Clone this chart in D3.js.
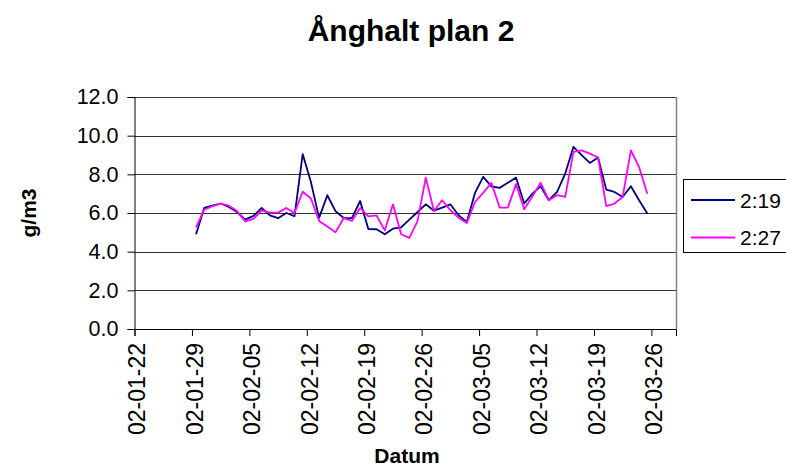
<!DOCTYPE html>
<html>
<head>
<meta charset="utf-8">
<script src="https://cdn.jsdelivr.net/npm/d3@7"></script>
<style>
  body { margin: 0; background: #fff; }
  svg { font-family: "Liberation Sans", Arial, sans-serif; }
</style>
</head>
<body>
<div id="chart"></div>
<script>
// data (daily, 2002)
var dates = ["02-01-29","02-01-30","02-01-31","02-02-01","02-02-02","02-02-03","02-02-04","02-02-05",
  "02-02-06","02-02-07","02-02-08","02-02-09","02-02-10","02-02-11","02-02-12","02-02-13","02-02-14",
  "02-02-15","02-02-16","02-02-17","02-02-18","02-02-19","02-02-20","02-02-21","02-02-22","02-02-23",
  "02-02-24","02-02-25","02-02-26","02-02-27","02-02-28","02-03-01","02-03-02","02-03-03","02-03-04",
  "02-03-05","02-03-06","02-03-07","02-03-08","02-03-09","02-03-10","02-03-11","02-03-12","02-03-13",
  "02-03-14","02-03-15","02-03-16","02-03-17","02-03-18","02-03-19","02-03-20","02-03-21","02-03-22",
  "02-03-23","02-03-24","02-03-25"];

var s219 = [4.9, 6.26, 6.38, 6.49, 6.31, 6.05, 5.66, 5.85, 6.26, 5.88, 5.73, 6.0, 5.83, 9.05, 7.6, 5.75,
  6.92, 6.1, 5.74, 5.74, 6.62, 5.17, 5.16, 4.9, 5.19, 5.26, 5.66, 6.05, 6.45, 6.12, 6.28, 6.45, 5.88,
  5.54, 7.04, 7.87, 7.38, 7.3, 7.56, 7.83, 6.49, 7.0, 7.38, 6.66, 7.09, 8.04, 9.42, 8.99, 8.59, 8.87,
  7.21, 7.09, 6.83, 7.38, 6.66, 5.97];

var s227 = [5.26, 6.17, 6.35, 6.49, 6.38, 6.1, 5.57, 5.7, 6.14, 6.02, 6.02, 6.26, 6.0, 7.1, 6.75, 5.59,
  5.3, 5.0, 5.74, 5.59, 6.26, 5.83, 5.88, 5.1, 6.45, 4.9, 4.71, 5.59, 7.83, 6.1, 6.66, 6.14, 5.76, 5.48,
  6.57, 7.04, 7.56, 6.28, 6.28, 7.49, 6.19, 6.86, 7.56, 6.66, 6.92, 6.83, 9.16, 9.24, 9.07, 8.87, 6.36,
  6.49, 6.83, 9.24, 8.38, 7.0];

var seriesNames = ["2:19", "2:27"];
var seriesColors = ["#000080", "#ff00ff"];

var xTickLabels = ["02-01-22","02-01-29","02-02-05","02-02-12","02-02-19","02-02-26",
  "02-03-05","02-03-12","02-03-19","02-03-26"];
var xMax = "02-03-29";
var yTicks = [0, 2, 4, 6, 8, 10, 12];

var svgWidth = 786;
var svgHeight = 468;
var plot = { left: 134.5, right: 676, top: 97, bottom: 329 };

var parse = d3.timeParse("%y-%m-%d");

var svg = d3.select("#chart")
  .append("svg")
  .attr("width", svgWidth)
  .attr("height", svgHeight);

var xScale = d3.scaleTime()
  .domain([parse(xTickLabels[0]), parse(xMax)])
  .range([plot.left, plot.right]);

var yScale = d3.scaleLinear()
  .domain([0, 12])
  .range([plot.bottom, plot.top]);

// points sit between tick marks (half a day in)
function xPos(s) {
  return xScale(d3.timeHour.offset(parse(s), 12));
}

// gridlines
svg.append("g")
  .selectAll("line")
  .data(yTicks.slice(1))
  .enter()
  .append("line")
  .attr("x1", plot.left)
  .attr("x2", plot.right)
  .attr("y1", d => Math.round(yScale(d)) + 0.5)
  .attr("y2", d => Math.round(yScale(d)) + 0.5)
  .attr("stroke", "#333")
  .attr("stroke-width", 1);

// right frame
svg.append("line")
  .attr("x1", plot.right + 0.5).attr("x2", plot.right + 0.5)
  .attr("y1", plot.top).attr("y2", plot.bottom)
  .attr("stroke", "#808080")
  .attr("stroke-width", 1.5);

// axes
var leftAxis = d3.axisLeft(yScale)
  .tickValues(yTicks)
  .tickFormat(d3.format(".1f"))
  .tickSizeOuter(0)
  .tickSize(7)
  .tickPadding(9);

var yAxisG = svg.append("g")
  .attr("transform", `translate(${plot.left}, 0)`)
  .call(leftAxis);

var bottomAxis = d3.axisBottom(xScale)
  .tickValues(xTickLabels.map(parse))
  .tickFormat(d3.timeFormat("%y-%m-%d"))
  .tickSizeOuter(0)
  .tickSize(7);

var xAxisG = svg.append("g")
  .attr("transform", `translate(0, ${plot.bottom})`)
  .call(bottomAxis);

[yAxisG, xAxisG].forEach(function(g) {
  g.select(".domain").attr("stroke", "#000");
  g.selectAll(".tick line").attr("stroke", "#000");
  g.selectAll("text").attr("fill", "#000").attr("font-family", "Liberation Sans, Arial, sans-serif");
});

yAxisG.selectAll("text").attr("font-size", 21.5);

xAxisG.selectAll("text")
  .attr("font-size", 23)
  .attr("transform", "rotate(-90)")
  .attr("text-anchor", "end")
  .attr("x", -14)
  .attr("y", 2)
  .attr("dy", "0.36em");

// lines
var series = [s219, s227];
var line = d3.line()
  .x((d, i) => xPos(dates[i]))
  .y(d => yScale(d));

svg.append("g")
  .selectAll("path")
  .data(series)
  .enter()
  .append("path")
  .attr("d", d => line(d))
  .attr("fill", "none")
  .attr("stroke", (d, i) => seriesColors[i])
  .attr("stroke-width", 1.8)
  .attr("stroke-linejoin", "round");

// titles
svg.append("text")
  .attr("x", 411)
  .attr("y", 41)
  .attr("text-anchor", "middle")
  .attr("font-size", 30)
  .attr("font-weight", "bold")
  .text("Ånghalt plan 2");

svg.append("text")
  .attr("x", 407)
  .attr("y", 463)
  .attr("text-anchor", "middle")
  .attr("font-size", 21)
  .attr("font-weight", "bold")
  .text("Datum");

svg.append("text")
  .attr("transform", "translate(36, 213) rotate(-90)")
  .attr("text-anchor", "middle")
  .attr("font-size", 21)
  .attr("font-weight", "bold")
  .text("g/m3");

// legend
var legend = svg.append("g");
legend.append("rect")
  .attr("x", 683.5)
  .attr("y", 179.5)
  .attr("width", 110)
  .attr("height", 73)
  .attr("fill", "#fff")
  .attr("stroke", "#000");

seriesNames.forEach(function(name, i) {
  var ly = 200 + i * 37.5;
  legend.append("line")
    .attr("x1", 691).attr("x2", 735)
    .attr("y1", ly).attr("y2", ly)
    .attr("stroke", seriesColors[i])
    .attr("stroke-width", 1.8);
  legend.append("text")
    .attr("x", 740)
    .attr("y", ly)
    .attr("dy", "0.36em")
    .attr("font-size", 21)
    .text(name);
});
</script>
</body>
</html>
